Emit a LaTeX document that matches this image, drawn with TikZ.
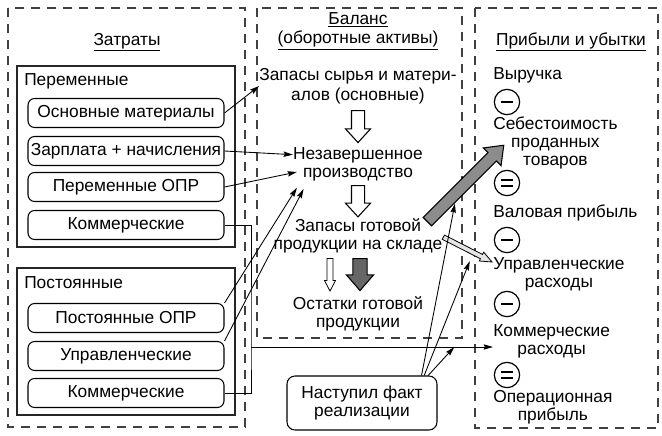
\documentclass[tikz,border=0pt]{standalone}
\usepackage{fontspec}
\setmainfont{Liberation Sans}
\usetikzlibrary{arrows.meta,shapes.arrows,calc}
\begin{document}
\begin{tikzpicture}[x=0.75pt,y=-0.75pt,
    font=\fontsize{13}{13.5}\selectfont,
    frame/.style={draw=black!75,line width=0.9pt,dash pattern=on 7pt off 5pt},
    group/.style={draw=black!85,line width=0.8pt},
    item/.style={draw,rounded corners=5pt,line width=0.8pt,minimum width=147pt,minimum height=21.75pt,inner sep=0pt},
    txt/.style={align=center,inner sep=0pt},
    sign/.style={draw,circle,line width=0.9pt,minimum size=19pt,inner sep=0pt},
    minussign/.style={sign,path picture={
        \draw[line width=1.2pt] ([xshift=-4.5pt]path picture bounding box.center)
          -- ([xshift=4.5pt]path picture bounding box.center);}},
    equalsign/.style={sign,path picture={
        \draw[line width=1.2pt] ([xshift=-4.5pt,yshift=2.2pt]path picture bounding box.center)
          -- ([xshift=4.5pt,yshift=2.2pt]path picture bounding box.center)
          ([xshift=-4.5pt,yshift=-2.2pt]path picture bounding box.center)
          -- ([xshift=4.5pt,yshift=-2.2pt]path picture bounding box.center);}},
    conn/.style={-{Stealth[length=7pt,width=4pt,inset=1pt]},line width=0.65pt},
    blockarrow/.style={single arrow,draw,line width=0.8pt,inner xsep=0pt,minimum width=0pt,anchor=tail,fill=white}
  ]
  \useasboundingbox (0,0) rectangle (662,436);

  \draw[frame] (8,8) rectangle (245,427);
  \draw[frame] (257,8) rectangle (462,338);
  \draw[frame] (475,8) rectangle (658,428);

  \node[anchor=base] (zatr) at (127,45) {\underline{Затраты}};
  \node[txt] (bal) at (358,31) {\underline{Баланс}\\[1pt]\underline{(оборотные активы)}};
  \node[anchor=base] (pu) at (571,45) {\underline{Прибыли и убытки}};

  \draw[group] (17,66) rectangle (235,247);
  \node[anchor=west,inner sep=0pt] (perlab) at (24,81) {Переменные};
  \node[item] (osnmat) at (126,113) {Основные материалы};
  \node[item] (zarpl) at (126,151) {Зарплата + начисления};
  \node[item] (peropr) at (126,187) {Переменные ОПР};
  \node[item] (kommvar) at (126,225) {Коммерческие};

  \draw[group] (17,268) rectangle (235,415);
  \node[anchor=west,inner sep=0pt] (postlab) at (24,283) {Постоянные};
  \node[item] (postopr) at (126,318) {Постоянные ОПР};
  \node[item] (upr) at (126,356) {Управленческие};
  \node[item] (kommfix) at (126,393) {Коммерческие};

  \node[txt] (zapsyr) at (358,86) {Запасы сырья и матери-\\[1.5pt]алов (основные)};
  \node[txt] (nezav) at (358,164) {Незавершенное\\производство};
  \node[txt] (zapgot) at (358,236) {Запасы готовой\\продукции на складе};
  \node[txt] (ostat) at (358,314) {Остатки готовой\\продукции};

  \node[blockarrow,rotate=-90,inner ysep=4.5pt,single arrow head extend=4.5pt,
        single arrow tip angle=85,minimum height=24pt] (a1) at (358,110) {};
  \node[blockarrow,rotate=-90,inner ysep=4.5pt,single arrow head extend=4.5pt,
        single arrow tip angle=85,minimum height=23.5pt] (a2) at (358,185) {};
  \node[blockarrow,rotate=-90,line width=0.6pt,inner ysep=1.9pt,single arrow head extend=1.9pt,
        single arrow tip angle=55,minimum height=24.5pt] (a3) at (330,258) {};
  \node[blockarrow,rotate=-90,fill=black!60,inner ysep=4.9pt,single arrow head extend=4.9pt,
        single arrow tip angle=82,minimum height=24pt] (a4) at (360,258) {};
  \node[blockarrow,rotate=45,fill=black!45,inner ysep=4.1pt,single arrow head extend=4.9pt,
        single arrow tip angle=75,minimum height=81pt] (gr) at (427,222) {};
  \node[blockarrow,rotate=-27,line width=0.6pt,fill=black!10,inner ysep=1.5pt,single arrow head extend=1.9pt,
        single arrow tip angle=45,minimum height=41pt] (tn) at (443,237) {};

  \node[txt,anchor=west] (vyr) at (493,75) {Выручка};
  \node[minussign] (m1) at (507,102) {};
  \node[txt,anchor=west] (sebest) at (493,143) {Себестоимость\\проданных\\товаров};
  \node[equalsign] (e1) at (507,183) {};
  \node[txt,anchor=west] (valp) at (493,213) {Валовая прибыль};
  \node[minussign] (m2) at (507,240) {};
  \node[txt,anchor=west] (uprr) at (493,274) {Управленческие\\расходы};
  \node[minussign] (m3) at (507,304) {};
  \node[txt,anchor=west] (kommr) at (493,341) {Коммерческие\\расходы};
  \node[equalsign] (e2) at (507,375) {};
  \node[txt,anchor=west] (oper) at (493,407) {Операционная\\прибыль};

  \node[draw,rounded corners=6pt,line width=0.8pt,align=center,inner sep=0pt,
        minimum width=112.5pt,minimum height=40.5pt] (fakt) at (362,403) {Наступил факт\\реализации};

  \coordinate (bus) at (251,347);
  \begin{scope}[conn]
    \draw (osnmat.east) -- (zapsyr.west);
    \draw (zarpl.east) -- ([yshift=7pt]nezav.west);
    \draw (peropr.east) -- ([xshift=3pt,yshift=-6pt]nezav.west);
    \draw (postopr.north east) -- ([xshift=3pt,yshift=-5pt]nezav.south west);
    \draw (upr.north east) -- ([xshift=8pt,yshift=-6pt]nezav.south west);
    \draw (bus) -- (bus -| kommr.west);
    \draw ([xshift=-12pt]fakt.north east) -- ($(gr.tail)!0.3!(gr.tip)!5pt!-90:(gr.tip)$);
    \draw ([xshift=-10pt]fakt.north east) -- ($(tn.tail)!0.62!(tn.tip)!7pt!-90:(tn.tip)$);
    \draw ([xshift=-7pt]fakt.north east) -- ($(bus)!0.84!(bus -| kommr.west)$);
  \end{scope}
  \draw[line width=0.65pt] (kommvar.east) -| (bus) |- (kommfix.east);
\end{tikzpicture}
\end{document}
